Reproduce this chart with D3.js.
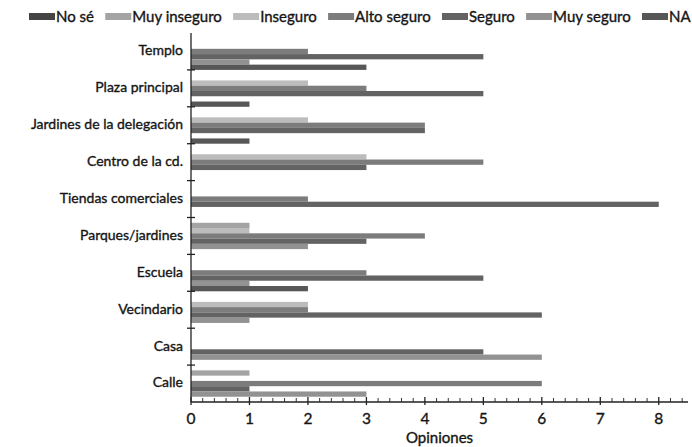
<!DOCTYPE html>
<html><head><meta charset="utf-8">
<script src="https://cdn.jsdelivr.net/npm/d3@7"></script>
<style>
html,body{margin:0;padding:0;background:#fff;}
svg{display:block;font-family:Lato,"Open Sans",sans-serif;}
svg text{stroke:#151515;stroke-width:0.35px;fill:#151515;}
</style></head>
<body><svg id="c" width="692" height="447"></svg>
<script>
const categories = ["Templo","Plaza principal","Jardines de la delegación","Centro de la cd.","Tiendas comerciales","Parques/jardines","Escuela","Vecindario","Casa","Calle"];
const seriesNames = ["No sé","Muy inseguro","Inseguro","Alto seguro","Seguro","Muy seguro","NA"];
const noSe        = [0,0,0,0,0,0,0,0,0,0];
const muyInseguro = [0,0,0,0,0,1,0,0,0,1];
const inseguro    = [0,2,2,3,0,1,0,2,0,0];
const altoSeguro  = [2,3,4,5,2,4,3,2,0,6];
const seguro      = [5,5,4,3,8,3,5,6,5,1];
const muySeguro   = [1,0,0,0,0,2,1,1,6,3];
const na          = [3,1,1,0,0,0,2,0,0,0];
const xTicks = [0,1,2,3,4,5,6,7,8];
const xTitle = "Opiniones";

const seriesValues = [noSe,muyInseguro,inseguro,altoSeguro,seguro,muySeguro,na];
const colors = ["#444444","#a4a4a4","#bcbcbc","#7c7c7c","#636363","#929292","#575757"];

const svg = d3.select("#c");
const pL = 191, pR = 688, pT = 33, pB = 402;

const x = d3.scaleLinear().domain([0,8.5]).range([pL,pR]);
const y = d3.scaleBand().domain(categories).range([pT,pB]).paddingInner(0).paddingOuter(0);
const ys = d3.scaleBand().domain(seriesNames).range([0,y.bandwidth()]).padding(0);

// bars
const data = [];
categories.forEach((c,i)=>seriesNames.forEach((s,j)=>data.push({c,s,j,v:seriesValues[j][i]})));
svg.append("g").selectAll("rect").data(data.filter(d=>d.v>0)).join("rect")
  .attr("x",x(0)).attr("y",d=>y(d.c)+ys(d.s)).attr("width",d=>x(d.v)-x(0))
  .attr("height",ys.bandwidth()).attr("fill",d=>colors[d.j]);

// x axis
const gx = svg.append("g");
gx.append("line").attr("x1",x(0)).attr("x2",pR).attr("y1",pB).attr("y2",pB).attr("stroke","#222").attr("stroke-width",1.3);
const minor = d3.range(0,8.5,0.2).filter(v=>Math.abs(v-Math.round(v))>1e-6);
gx.selectAll(".mi").data(minor).join("line").attr("class","mi").attr("x1",d=>x(d)).attr("x2",d=>x(d)).attr("y1",pB-4).attr("y2",pB).attr("stroke","#333").attr("stroke-width",1);
gx.selectAll(".ma").data(xTicks).join("line").attr("class","ma").attr("x1",d=>x(d)).attr("x2",d=>x(d)).attr("y1",pB-5).attr("y2",pB+3).attr("stroke","#222").attr("stroke-width",1.3);
gx.selectAll("text").data(xTicks).join("text").attr("x",d=>x(d)).attr("y",424).attr("text-anchor","middle")
  .attr("font-size",15.5).text(d=>d);
svg.append("text").attr("x",(pL+pR)/2).attr("y",443).attr("text-anchor","middle").attr("font-size",15).text(xTitle);

// y axis
const gy = svg.append("g");
gy.append("line").attr("x1",pL).attr("x2",pL).attr("y1",pT).attr("y2",pB).attr("stroke","#222").attr("stroke-width",1.3);
gy.selectAll(".bt").data(categories.slice(1)).join("line").attr("class","bt").attr("x1",pL-4).attr("x2",pL+4)
  .attr("y1",d=>y(d)).attr("y2",d=>y(d)).attr("stroke","#222").attr("stroke-width",1.3);
gy.selectAll("text").data(categories).join("text").attr("x",183).attr("y",d=>y(d)+y.bandwidth()/2-1)
  .attr("dy","0.35em").attr("text-anchor","end").attr("font-size",14).text(d=>d);

// legend
const lg = svg.append("g");
const items = lg.selectAll("g").data(seriesNames).join("g");
items.append("rect").attr("width",26).attr("height",7).attr("y",13).attr("fill",(d,i)=>colors[i]);
items.append("text").attr("x",27).attr("y",21.5).attr("font-size",15).text(d=>d);
const widths = [];
items.each(function(){widths.push(d3.select(this).select("text").node().getComputedTextLength());});
const sumW = d3.sum(widths.slice(0,6));
const gap = (642-29 - 6*27 - sumW)/6;
let lx = 29;
items.each(function(d,i){d3.select(this).attr("transform",`translate(${lx},0)`); lx += 27+widths[i]+gap;});
</script></body></html>
